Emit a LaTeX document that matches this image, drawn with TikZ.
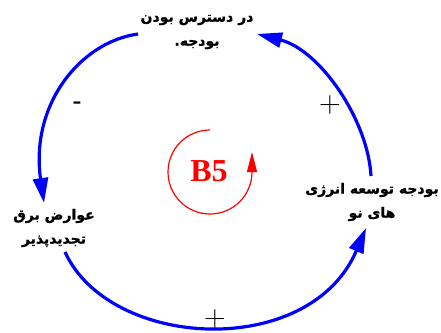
\documentclass[tikz,border=0pt]{standalone}
\usepackage{fontspec}
\usetikzlibrary{arrows.meta}
\TeXXeTstate=1
\newfontfamily\fa[Script=Arabic,BoldFeatures={FakeBold=1.2}]{DejaVu Sans}
\newfontfamily\tms{Liberation Serif}
\newfontfamily\lsans{Liberation Sans}
\definecolor{loopblue}{RGB}{0,0,255}
\definecolor{loopred}{RGB}{255,0,0}
\begin{document}
\begin{tikzpicture}[x=1pt,y=-1pt,
  lbl/.style={font=\fa\bfseries\fontsize{14}{24}\selectfont, align=center, inner sep=0pt},
  link/.style={draw=loopblue, line width=3.2pt, -{Triangle[length=25pt,width=15pt]}},
  sign/.style={font=\fontsize{30}{30}\selectfont, inner sep=0pt},
  minus/.style={font=\lsans\fontsize{28}{28}\selectfont, inner sep=0pt}]
\useasboundingbox (0,0) rectangle (441,332);
\node[lbl] (top) at (197,32) {\beginR در دسترس بودن\endR\\\beginR بودجه.\endR};
\node[lbl] (left) at (54,228) {\beginR عوارض برق\endR\\\beginR تجدیدپذیر\endR};
\node[lbl] (right) at (372,202) {\beginR بودجه توسعه انرژی\endR\\\beginR های نو\endR};
\coordinate (a1s) at (138,34);
\coordinate (a1e) at (44,203);
\coordinate (a2s) at (65,252);
\coordinate (a2e) at (366,228);
\coordinate (a3s) at (371,176);
\coordinate (a3e) at (257,34);
\draw[link] (a1s) .. controls (80,42) and (30,105) .. (a1e);
\draw[link] (a2s) .. controls (110,350) and (310,360) .. (a2e);
\draw[link] (a3s) .. controls (368,120) and (320,50) .. (a3e);
\node[minus] (m1) at (77,106) {-};
\node[sign] (p1) at (330,105) {+};
\node[sign] (p2) at (215,319) {+};
\node[font=\tms\bfseries\fontsize{32}{32}\selectfont, text=loopred, inner sep=0pt] (b5) at (209,171) {B5};
\coordinate (rs) at (210,130);
\draw[loopred, line width=1.2pt, -{Triangle[length=20pt,width=10pt]}] (rs) arc (270:0:42) -- ++(0,-20);
\end{tikzpicture}
\end{document}
